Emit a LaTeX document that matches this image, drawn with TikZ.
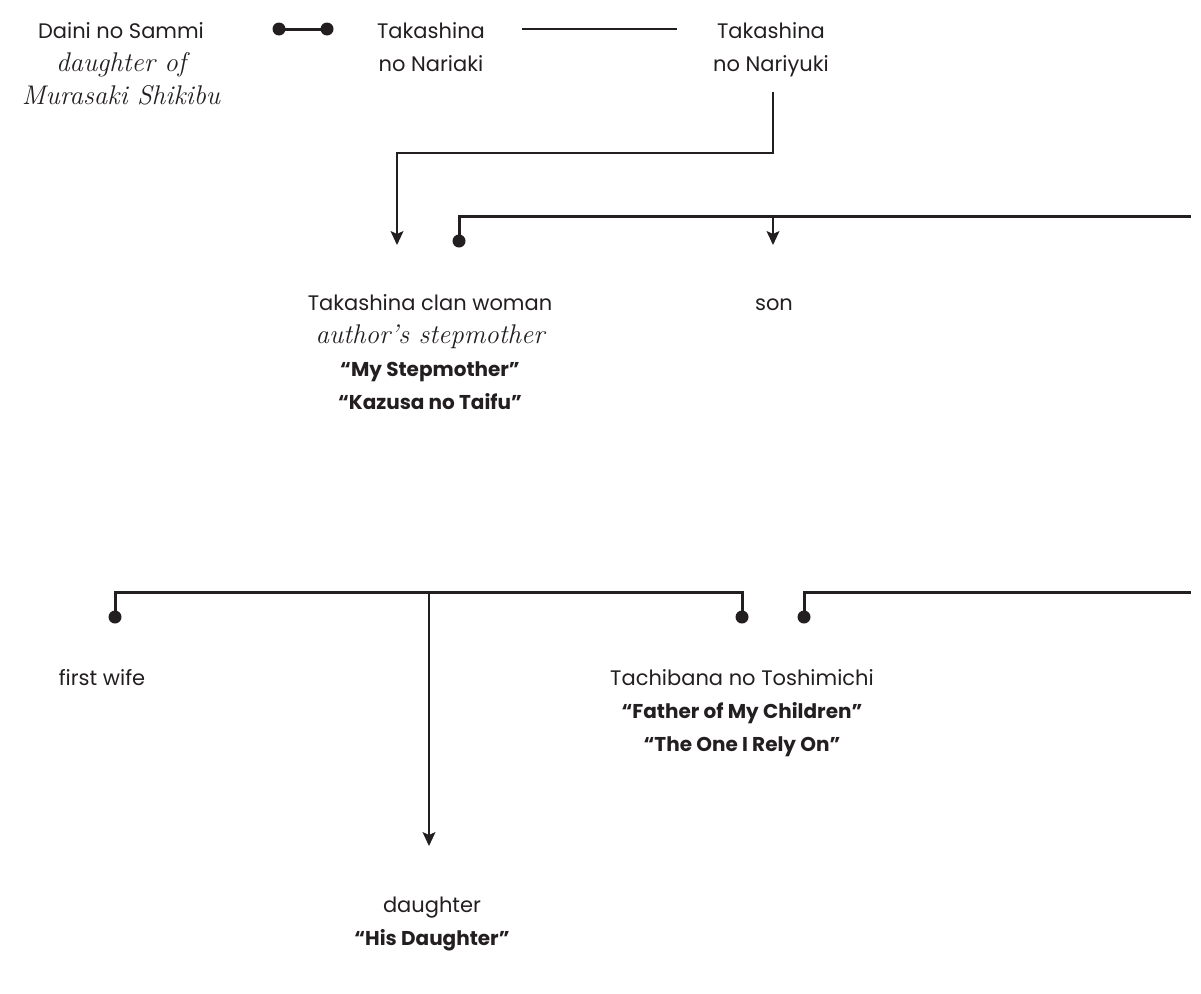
\documentclass[tikz,border=0pt]{standalone}
\usepackage{fontspec}
\newfontfamily\labelfont{Poppins}
\usetikzlibrary{arrows.meta}

\definecolor{ink}{HTML}{231F20}

% name lines: plain sans; epithets: serif italic; nicknames: bold sans
\newcommand{\epithet}[1]{{\rmfamily\itshape\fontsize{27}{33}\selectfont #1}}
\newcommand{\nickname}[1]{{\bfseries\fontsize{20}{33}\selectfont #1}}

\tikzset{
  person/.style={anchor=base, align=center, inner sep=0pt, text=ink,
    font=\labelfont\fontsize{21}{33}\selectfont},
  thinline/.style={draw=ink, line width=1.4pt},
  thickline/.style={draw=ink, line width=3pt},
  descent/.style={thinline, -{Stealth[length=14pt,width=13pt,inset=3pt]}},
  dot/.style={fill=ink},
}

\begin{document}
\begin{tikzpicture}[x=1pt,y=-1pt]
\useasboundingbox (0,0) rectangle (1201,993);

% ---- people (each placed by the baseline of its last line) ----
\node[person] (daini)      at (121,104) {Daini no Sammi\\\epithet{daughter of}\\\epithet{Murasaki Shikibu}};
\node[person] (nariaki)    at (431,71)  {Takashina\\no Nariaki};
\node[person] (nariyuki)   at (771,71)  {Takashina\\no Nariyuki};
\node[person] (clanwoman)  at (430,409) {Takashina clan woman\\\epithet{author’s stepmother}\\\nickname{“My Stepmother”}\\\nickname{“Kazusa no Taifu”}};
\node[person] (son)        at (774,310) {son};
\node[person] (firstwife)  at (102,685) {first wife};
\node[person] (toshimichi) at (742,751) {Tachibana no Toshimichi\\\nickname{“Father of My Children”}\\\nickname{“The One I Rely On”}};
\node[person] (daughter)   at (432,945) {daughter\\\nickname{“His Daughter”}};

% ---- connector points ----
\coordinate (m1a) at (279,29);
\coordinate (m1b) at (327,29);
\coordinate (s1a) at (522,29);
\coordinate (s1b) at (677,29);
\coordinate (nyTop) at (773,92);
\coordinate (nyBend) at (773,153);
\coordinate (cwTip) at (397,245);
\coordinate (cwDot) at (459,241);
\coordinate (barA) at (459,216);
\coordinate (barAend) at (1191,216);
\coordinate (sonFork) at (773,216);
\coordinate (sonTip) at (773,245);
\coordinate (fwDot) at (115,617);
\coordinate (barB) at (115,592);
\coordinate (barBend) at (742,592);
\coordinate (tsDotL) at (742,617);
\coordinate (dFork) at (429,592);
\coordinate (dTip) at (429,846);
\coordinate (tsDotR) at (804,617);
\coordinate (barC) at (804,592);
\coordinate (barCend) at (1191,592);

% ---- Daini no Sammi and Nariaki; Nariaki and his brother Nariyuki ----
\draw[thickline] (m1a) -- (m1b);
\fill[dot] (m1a) circle (6.5) (m1b) circle (6.5);
\draw[thinline] (s1a) -- (s1b);

% ---- Nariyuki to his children ----
\draw[descent] (nyTop) -- (nyBend) -| (cwTip);

% ---- Takashina clan woman's marriage bar ----
\draw[thickline] (cwDot) -- (barA) -- (barAend);
\fill[dot] (cwDot) circle (6.5);
\draw[descent] (sonFork) -- (sonTip);

% ---- Toshimichi and his first wife ----
\draw[thickline] (fwDot) -- (barB) -- (barBend) -- (tsDotL);
\fill[dot] (fwDot) circle (6.5) (tsDotL) circle (6.5);
\draw[descent] (dFork) -- (dTip);

% ---- Toshimichi's other marriage ----
\draw[thickline] (tsDotR) -- (barC) -- (barCend);
\fill[dot] (tsDotR) circle (6.5);
\end{tikzpicture}
\end{document}
